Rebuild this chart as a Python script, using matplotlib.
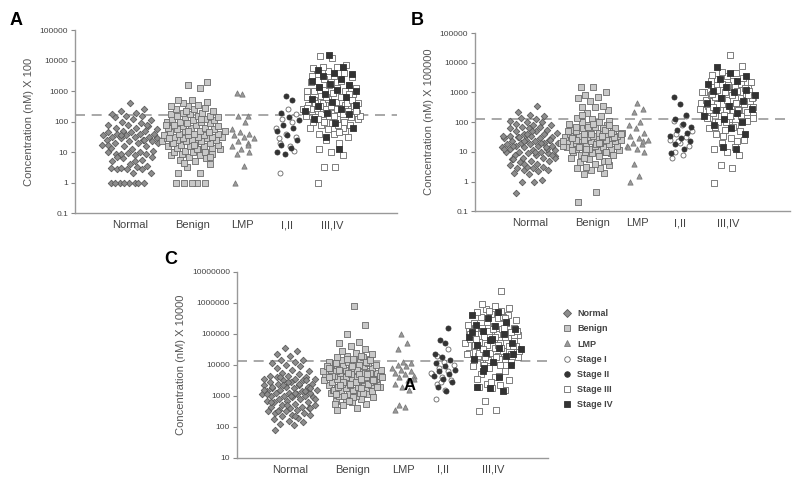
import numpy as np
import matplotlib
matplotlib.use("Agg")
import matplotlib.pyplot as plt
from matplotlib.lines import Line2D

plt.rcParams["font.family"] = ["Liberation Sans", "DejaVu Sans"]

CATEGORIES = ["Normal", "Benign", "LMP", "I,II", "III,IV"]

# values are log10 of the concentration
normal_a = [0, 0, 0, 0, 0, 0, 0, 0,
            0.3, 0.3, 0.45, 0.45, 0.45, 0.48, 0.5, 0.48, 0.55, 0.6,
            0.7, 0.75, 0.8, 0.85, 0.9, 0.95, 0.95, 0.98, 1.0, 1.0, 0.95, 1.05,
            1.1, 1.15, 1.2, 1.2, 1.25, 1.3, 1.3, 1.35, 1.35, 1.4, 1.4, 1.45, 1.45, 1.5, 1.5, 1.5,
            1.55, 1.55, 1.6, 1.6, 1.6, 1.65, 1.65, 1.7, 1.7, 1.75,
            1.8, 1.8, 1.85, 1.9, 1.9, 1.95, 2.0, 2.05, 2.1, 2.15, 2.2, 2.2, 2.25, 2.3, 2.35, 2.4, 2.6,
            1.25, 1.4, 1.55, 1.3, 0.7, 0.85, 1.9]
benign_a = [0, 0, 0, 0, 0,
            0.3, 0.3, 0.5, 0.6, 0.7, 0.75, 0.8, 0.85, 0.9, 0.9, 0.95, 0.95, 1.0, 1.0, 1.0,
            1.05, 1.1, 1.1, 1.15, 1.15, 1.2, 1.2, 1.2, 1.25, 1.25, 1.3, 1.3, 1.3, 1.35, 1.35, 1.35,
            1.4, 1.4, 1.4, 1.45, 1.45, 1.45, 1.5, 1.5, 1.5, 1.5, 1.55, 1.55, 1.55, 1.6, 1.6, 1.6,
            1.65, 1.65, 1.7, 1.7, 1.7, 1.75, 1.75, 1.8, 1.8, 1.8, 1.85, 1.85, 1.9, 1.9, 1.95, 1.95,
            2.0, 2.0, 2.0, 2.05, 2.05, 2.1, 2.1, 2.15, 2.15, 2.2, 2.2, 2.2, 2.25, 2.25, 2.3, 2.3,
            2.35, 2.4, 2.4, 2.45, 2.5, 2.5, 2.55, 2.6, 2.65, 2.7, 2.7,
            3.1, 3.2, 3.3, 1.1, 1.3, 1.5, 1.7, 1.9, 2.1, 0.65, 0.85, 1.25, 1.45, 1.65, 2.35]
lmp_a = [0, 0.55, 0.95, 1.0, 1.1, 1.2, 1.3, 1.35, 1.45, 1.5, 1.55, 1.6, 1.65, 1.75,
         2.0, 2.2, 2.2, 2.9, 2.95, 1.25]
stage1_a = [0.3, 1.2, 1.3, 1.5, 1.6, 1.8, 2.0, 2.1, 2.25, 2.4, 1.45, 1.05]
stage2_a = [0.95, 1.0, 1.15, 1.25, 1.4, 1.55, 1.7, 1.8, 1.9, 2.05, 2.15, 2.3, 2.7, 2.85]
stage3_a = [0, 0.5, 0.5, 0.9, 1.0, 1.1, 1.3, 1.4, 1.5, 1.6, 1.6, 1.7, 1.75, 1.8, 1.85, 1.9,
            1.9, 1.95, 2.0, 2.0, 2.05, 2.1, 2.1, 2.15, 2.15, 2.2, 2.2, 2.25, 2.25, 2.3, 2.3,
            2.35, 2.35, 2.4, 2.4, 2.45, 2.45, 2.5, 2.5, 2.55, 2.55, 2.6, 2.6, 2.65, 2.7, 2.7,
            2.75, 2.8, 2.8, 2.85, 2.9, 2.95, 3.0, 3.0, 3.05, 3.1, 3.1, 3.15, 3.2, 3.25, 3.3,
            3.35, 3.4, 3.45, 3.5, 3.55, 3.6, 3.65, 3.75, 3.8, 3.8, 3.85, 4.1, 4.15,
            1.8, 2.0, 2.2, 2.4, 2.6, 2.9, 3.2, 3.5, 1.65, 2.5, 2.35,
            2.2, 2.4, 2.6, 2.8, 3.0, 1.9, 2.1, 2.7, 3.3, 2.45]
stage4_a = [1.1, 1.5, 1.8, 1.95, 2.1, 2.25, 2.3, 2.35, 2.4, 2.5, 2.55, 2.65, 2.75, 2.8,
            2.9, 3.0, 3.05, 3.15, 3.2, 3.25, 3.35, 3.4, 3.5, 3.55, 3.6, 3.7, 3.8, 4.2]

normal_b = [-0.4, 0, 0, 0.05, 0.25, 0.3, 0.35, 0.4, 0.4, 0.45, 0.45, 0.5, 0.5, 0.55, 0.6,
            0.65, 0.7, 0.7, 0.75, 0.8, 0.8, 0.85, 0.9, 0.9, 0.95, 0.95, 1.0, 1.0, 1.0, 1.05,
            1.05, 1.1, 1.1, 1.15, 1.15, 1.2, 1.2, 1.2, 1.25, 1.25, 1.3, 1.3, 1.3, 1.35, 1.35,
            1.4, 1.4, 1.45, 1.45, 1.5, 1.5, 1.55, 1.55, 1.6, 1.6, 1.65, 1.7, 1.7, 1.75, 1.8,
            1.8, 1.85, 1.85, 1.9, 1.9, 1.95, 2.0, 2.0, 2.05, 2.1, 2.15, 2.2, 2.25, 2.35, 2.55,
            0.6, 0.8, 1.0, 1.2, 1.4, 1.6, 1.1, 1.3, 1.5, 0.9, 1.7, 0.75, 1.15, 1.35, 1.55]
benign_b = [-0.7, -0.35, 0.25, 0.3, 0.4, 0.45, 0.45, 0.5, 0.55, 0.6, 0.65, 0.7, 0.75, 0.8,
            0.85, 0.9, 0.95, 0.95, 1.0, 1.0, 1.0, 1.05, 1.05, 1.1, 1.1, 1.1, 1.15, 1.15, 1.2,
            1.2, 1.2, 1.25, 1.25, 1.25, 1.3, 1.3, 1.3, 1.35, 1.35, 1.35, 1.4, 1.4, 1.4, 1.45,
            1.45, 1.45, 1.5, 1.5, 1.5, 1.55, 1.55, 1.55, 1.6, 1.6, 1.6, 1.65, 1.65, 1.7, 1.7,
            1.7, 1.75, 1.75, 1.8, 1.8, 1.85, 1.85, 1.9, 1.9, 1.95, 2.0, 2.0, 2.05, 2.1, 2.15,
            2.2, 2.3, 2.4, 2.5, 2.5, 2.55, 2.7, 2.8, 2.85, 2.9, 3.0, 3.2, 3.2,
            1.0, 1.1, 1.2, 1.3, 1.4, 1.5, 1.6, 1.7, 1.8, 0.8, 0.9, 1.25, 1.45, 1.65, 1.85,
            1.35, 1.55, 1.15, 0.7, 1.95, 1.05, 1.75, 1.4, 1.6, 1.3, 2.25, 1.9]
lmp_b = [0, 0.2, 0.6, 1.0, 1.1, 1.2, 1.25, 1.3, 1.4, 1.45, 1.55, 1.65, 1.8, 1.9, 2.0,
         2.35, 2.45, 2.65, 1.15, 1.35]
stage1_b = [0.8, 0.9, 1.0, 1.2, 1.3, 1.4, 1.5, 1.6, 1.7, 1.9, 2.05, 2.2, 1.35]
stage2_b = [0.95, 1.1, 1.25, 1.35, 1.45, 1.55, 1.65, 1.75, 1.85, 1.95, 2.1, 2.25, 2.6, 2.85]
stage3_b = [-0.05, 0.45, 0.55, 0.9, 1.0, 1.1, 1.15, 1.3, 1.4, 1.45, 1.6, 1.7, 1.75, 1.8,
            1.9, 2.0, 2.05, 2.1, 2.15, 2.2, 2.2, 2.25, 2.3, 2.3, 2.35, 2.4, 2.4, 2.45, 2.5,
            2.5, 2.55, 2.55, 2.6, 2.6, 2.65, 2.65, 2.7, 2.7, 2.75, 2.75, 2.8, 2.8, 2.85, 2.9,
            2.9, 2.95, 3.0, 3.0, 3.05, 3.1, 3.15, 3.2, 3.25, 3.3, 3.3, 3.35, 3.4, 3.45, 3.5,
            3.55, 3.6, 3.65, 3.7, 3.9, 4.25, 1.85, 2.05, 2.25, 2.45, 2.65, 2.85, 3.05, 3.25,
            3.4, 1.35, 1.55, 2.15, 2.35, 2.95, 3.15, 2.0, 2.2, 2.4, 2.6, 2.8,
            2.2, 2.4, 2.6, 2.8, 3.0, 1.85, 2.5, 2.9, 3.2, 2.15]
stage4_b = [1.1, 1.15, 1.6, 1.8, 1.9, 2.0, 2.1, 2.2, 2.3, 2.4, 2.45, 2.55, 2.65, 2.7,
            2.8, 2.9, 3.0, 3.05, 3.1, 3.2, 3.3, 3.4, 3.45, 3.55, 3.65, 3.85]

normal_c = [1.9, 2.05, 2.1, 2.15, 2.2, 2.25, 2.3, 2.35, 2.4, 2.4, 2.45, 2.45, 2.5, 2.5, 2.55,
            2.55, 2.6, 2.6, 2.65, 2.65, 2.7, 2.7, 2.75, 2.8, 2.8, 2.85, 2.85, 2.9, 2.9, 2.95,
            2.95, 3.0, 3.0, 3.0, 3.05, 3.05, 3.1, 3.1, 3.1, 3.15, 3.15, 3.2, 3.2, 3.25, 3.25,
            3.3, 3.3, 3.35, 3.35, 3.4, 3.4, 3.45, 3.45, 3.5, 3.5, 3.55, 3.55, 3.6, 3.6, 3.65,
            3.65, 3.7, 3.75, 3.8, 3.85, 3.9, 3.95, 4.0, 4.05, 4.1, 4.15, 4.15, 4.3, 4.35, 4.45,
            4.55, 2.9, 3.1, 3.3, 3.5, 2.7, 3.2, 3.4, 3.6, 2.6, 3.0, 2.8, 3.15, 3.35, 3.55,
            2.35, 2.5, 3.25, 3.45, 3.05]
benign_c = [2.55, 2.6, 2.7, 2.75, 2.8, 2.85, 2.9, 2.9, 2.95, 3.0, 3.0, 3.05, 3.05, 3.1, 3.1,
            3.15, 3.15, 3.2, 3.2, 3.25, 3.25, 3.3, 3.3, 3.3, 3.35, 3.35, 3.35, 3.4, 3.4, 3.4,
            3.45, 3.45, 3.45, 3.5, 3.5, 3.5, 3.55, 3.55, 3.55, 3.6, 3.6, 3.6, 3.65, 3.65, 3.65,
            3.7, 3.7, 3.7, 3.75, 3.75, 3.75, 3.8, 3.8, 3.8, 3.85, 3.85, 3.85, 3.9, 3.9, 3.9,
            3.95, 3.95, 4.0, 4.0, 4.0, 4.05, 4.05, 4.1, 4.1, 4.15, 4.15, 4.2, 4.2, 4.25, 4.25,
            4.3, 4.35, 4.4, 4.45, 4.5, 4.6, 4.7, 4.75, 5.0, 5.3, 5.9,
            3.2, 3.4, 3.6, 3.8, 4.0, 3.3, 3.5, 3.7, 3.9, 3.1, 3.45, 3.65, 3.85, 4.05, 3.55,
            3.75, 3.95, 3.25, 3.35, 3.15, 2.95, 3.05, 4.1, 4.2, 3.6, 3.7, 3.8, 3.5, 3.4, 3.9,
            4.3, 3.0, 3.3, 3.45, 3.65, 3.75, 2.85, 2.75, 3.55, 3.85, 4.15, 3.95, 3.6, 3.7]
lmp_c = [2.55, 2.65, 2.7, 3.2, 3.3, 3.4, 3.5, 3.6, 3.65, 3.7, 3.75, 3.8, 3.85, 3.9, 3.95,
         4.0, 4.05, 4.1, 4.5, 4.7, 5.0, 3.55]
stage1_c = [2.9, 3.2, 3.4, 3.5, 3.6, 3.7, 3.8, 3.9, 4.0, 4.1, 4.3, 4.5, 3.45, 3.75]
stage2_c = [3.15, 3.3, 3.45, 3.55, 3.65, 3.7, 3.8, 3.85, 3.95, 4.05, 4.15, 4.25, 4.35, 4.7,
            4.8, 5.2]
stage3_c = [2.5, 2.55, 2.85, 3.2, 3.25, 3.3, 3.35, 3.4, 3.5, 3.6, 3.7, 3.8, 3.9, 3.95, 4.0,
            4.05, 4.1, 4.1, 4.15, 4.2, 4.2, 4.25, 4.3, 4.3, 4.35, 4.4, 4.4, 4.45, 4.5, 4.5,
            4.55, 4.6, 4.6, 4.65, 4.7, 4.7, 4.75, 4.8, 4.8, 4.85, 4.9, 4.9, 4.95, 5.0, 5.0,
            5.05, 5.1, 5.1, 5.15, 5.2, 5.2, 5.25, 5.3, 5.35, 5.4, 5.45, 5.5, 5.55, 5.6, 5.65,
            5.7, 5.75, 5.8, 5.85, 5.9, 5.95, 6.4,
            4.15, 4.35, 4.55, 4.75, 4.95, 5.15, 5.35, 5.55, 4.25, 4.45, 4.65, 4.85, 5.05,
            3.45, 3.55, 3.65, 4.0, 4.6, 4.9, 5.2, 5.5, 5.75, 5.3,
            4.2, 4.4, 4.6, 4.8, 5.0, 5.2, 4.5, 5.1, 4.25, 4.65]
stage4_c = [3.15, 3.25, 3.3, 3.6, 3.9, 4.0, 4.1, 4.2, 4.3, 4.4, 4.5, 4.55, 4.65, 4.7,
            4.8, 4.9, 5.0, 5.1, 5.15, 5.25, 5.3, 5.4, 5.5, 5.6, 5.7, 3.8, 4.35, 4.85, 5.05]

CUTOFF_A = 160
CUTOFF_B = 130
CUTOFF_C = 13000

STYLES = {
    "Normal": dict(marker="D", s=11, c="#8c8c8c", edgecolors="#5a5a5a"),
    "Benign": dict(marker="s", s=13, c="#c8c8c8", edgecolors="#6a6a6a"),
    "LMP": dict(marker="^", s=14, c="#9a9a9a", edgecolors="#7a7a7a"),
    "Stage I": dict(marker="o", s=13, c="white", edgecolors="#666666"),
    "Stage II": dict(marker="o", s=13, c="#333333", edgecolors="#333333"),
    "Stage III": dict(marker="s", s=13, c="white", edgecolors="#6a6a6a"),
    "Stage IV": dict(marker="s", s=13, c="#333333", edgecolors="#333333"),
}


def spread(values, half_width):
    # horizontal layout of a dot column: wider where the points are dense
    v = np.asarray(values, dtype=float)
    dens = np.array([np.sum(np.abs(v - x) < 0.35) for x in v], dtype=float)
    dens = dens / dens.max()
    phase = (np.arange(len(v)) * 0.618034) % 1.0 - 0.5
    return phase * 2 * half_width * (0.45 + 0.55 * dens)


def draw_panel(ax, groups, positions, widths, ylim, yticks, ylabel, cutoff):
    for pos, width, parts in zip(positions, widths, groups):
        allv = np.concatenate([np.asarray(v, dtype=float) for _, v in parts])
        offs = spread(allv, width)
        start = 0
        for name, vals in parts:
            n = len(vals)
            ax.scatter(pos + offs[start:start + n], 10 ** allv[start:start + n],
                       linewidths=0.6, zorder=3, **STYLES[name])
            start += n
    ax.axhline(cutoff, color="#9a9a9a", lw=1.2, ls=(0, (6, 4)), zorder=2)
    ax.set_yscale("log")
    ax.set_ylim(*ylim)
    ax.set_xlim(0, 10)
    ax.set_yticks(yticks)
    ax.set_yticklabels([("%g" % t) if t < 1 else str(int(t)) for t in yticks])
    ax.minorticks_off()
    ax.set_xticks(positions)
    ax.set_xticklabels(CATEGORIES, fontsize=8, color="#444444")
    ax.tick_params(axis="x", length=0, pad=5)
    ax.tick_params(axis="y", length=3, width=0.8, colors="#888888", labelsize=6,
                   labelcolor="#444444", pad=2)
    for side in ("top", "right"):
        ax.spines[side].set_visible(False)
    for side in ("left", "bottom"):
        ax.spines[side].set_color("#999999")
        ax.spines[side].set_linewidth(1.0)
    ax.set_ylabel(ylabel, fontsize=8, color="#555555", labelpad=4)


fig = plt.figure(figsize=(8, 4.8), dpi=100)

WIDTHS = [0.95, 1.0, 0.42, 0.42, 0.95]

ax_a = fig.add_axes([0.094, 0.556, 0.402, 0.381])
draw_panel(ax_a,
           [[("Normal", normal_a)], [("Benign", benign_a)], [("LMP", lmp_a)],
            [("Stage I", stage1_a), ("Stage II", stage2_a)],
            [("Stage III", stage3_a), ("Stage IV", stage4_a)]],
           [1.71, 3.66, 5.19, 6.58, 7.98], WIDTHS,
           (0.1, 1e5), [0.1, 1, 10, 100, 1000, 10000, 100000],
           "Concentration (nM) X 100", CUTOFF_A)

ax_b = fig.add_axes([0.594, 0.560, 0.394, 0.371])
draw_panel(ax_b,
           [[("Normal", normal_b)], [("Benign", benign_b)], [("LMP", lmp_b)],
            [("Stage I", stage1_b), ("Stage II", stage2_b)],
            [("Stage III", stage3_b), ("Stage IV", stage4_b)]],
           [1.75, 3.71, 5.14, 6.51, 8.03], WIDTHS,
           (0.1, 1e5), [0.1, 1, 10, 100, 1000, 10000, 100000],
           "Concentration (nM) X 100000", CUTOFF_B)

ax_c = fig.add_axes([0.296, 0.046, 0.389, 0.3875])
draw_panel(ax_c,
           [[("Normal", normal_c)], [("Benign", benign_c)], [("LMP", lmp_c)],
            [("Stage I", stage1_c), ("Stage II", stage2_c)],
            [("Stage III", stage3_c), ("Stage IV", stage4_c)]],
           [1.70, 3.73, 5.34, 6.62, 8.23], WIDTHS,
           (10, 1e7), [10, 100, 1000, 10000, 100000, 1000000, 10000000],
           "Concentration (nM) X 10000", CUTOFF_C)

ax_c.text(5.55, 2200, "A", fontsize=12, fontweight="bold", ha="center", va="center")

handles = []
for name in ["Normal", "Benign", "LMP", "Stage I", "Stage II", "Stage III", "Stage IV"]:
    st = STYLES[name]
    handles.append(Line2D([], [], ls="none", marker=st["marker"], markersize=4,
                          markerfacecolor=st["c"], markeredgecolor=st["edgecolors"],
                          markeredgewidth=0.6, label=name))
leg = fig.legend(handles=handles, loc="upper left", bbox_to_anchor=(0.698, 0.365),
                 frameon=False, fontsize=6.5, handlelength=1.0, handletextpad=0.6,
                 labelspacing=0.68, borderpad=0)
for t in leg.get_texts():
    t.set_fontweight("bold")
    t.set_color("#444444")

fig.text(0.012, 0.975, "A", fontsize=13, fontweight="bold", va="top")
fig.text(0.513, 0.975, "B", fontsize=13, fontweight="bold", va="top")
fig.text(0.205, 0.478, "C", fontsize=13, fontweight="bold", va="top")

fig.savefig("out.png", dpi=100)
